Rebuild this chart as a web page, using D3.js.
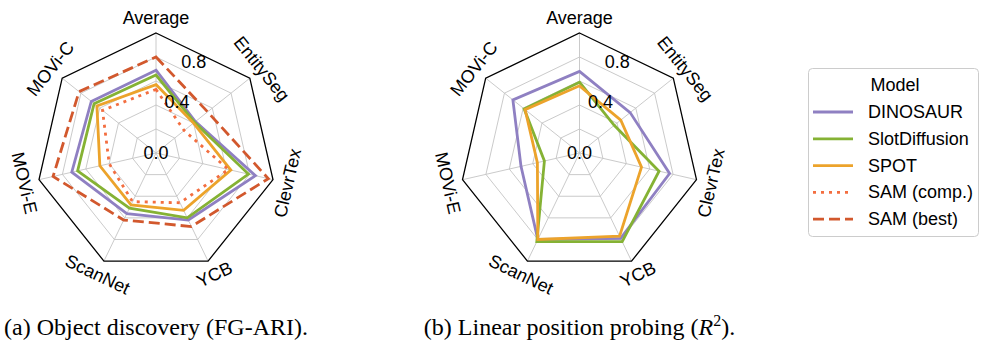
<!DOCTYPE html>
<html>
<head>
<meta charset="utf-8">
<script src="https://cdn.jsdelivr.net/npm/d3@7"></script>
<style>
  body { margin: 0; background: #fff; }
  text { font-family: "Liberation Sans", Arial, sans-serif; fill: #000; }
  .caption { font-family: "Liberation Serif", "Times New Roman", serif; }
</style>
</head>
<body>
<svg id="chart" width="981" height="341"></svg>
<script>
// axes go clockwise from the top
const axesNames = ["Average", "EntitySeg", "ClevrTex", "YCB", "ScanNet", "MOVi-E", "MOVi-C"];
const modelNames = ["DINOSAUR", "SlotDiffusion", "SPOT", "SAM (comp.)", "SAM (best)"];
const modelColors = ["#8f80c2", "#85b234", "#eca32b", "#f36e40", "#d2582d"];
const modelDash = [null, null, null, "3,5", "11,5"];
const rTicks = [0.0, 0.4, 0.8];
const rGrid = [0.2, 0.4, 0.6, 0.8];

// (a) object discovery, FG-ARI
const ariDinosaur = [0.69, 0.42, 0.85, 0.62, 0.56, 0.72, 0.69];
const ariSlotDiff = [0.65, 0.41, 0.79, 0.60, 0.51, 0.67, 0.66];
const ariSpot     = [0.57, 0.40, 0.64, 0.53, 0.48, 0.48, 0.63];
const ariSamComp  = [0.53, 0.30, 0.62, 0.46, 0.45, 0.40, 0.57];
const ariSamBest  = [0.80, 0.55, 0.96, 0.68, 0.62, 0.88, 0.82];

// (b) linear position probing, R^2
const r2Dinosaur = [0.68, 0.54, 0.77, 0.79, 0.80, 0.50, 0.71];
const r2SlotDiff = [0.59, 0.37, 0.68, 0.82, 0.82, 0.30, 0.59];
const r2Spot     = [0.56, 0.44, 0.53, 0.77, 0.80, 0.36, 0.58];

const svg = d3.select("#chart");
const R = 120;
const rScale = d3.scaleLinear().domain([0, 1]).range([0, R]);
const nAx = axesNames.length;
const angle = i => i * 2 * Math.PI / nAx;

function drawRadar(cx, cy, series, caption) {
   const g = svg.append("g").attr("transform", "translate(" + cx + "," + cy + ")");
   const ring = d3.lineRadial()
      .angle((d, i) => angle(i))
      .radius(d => rScale(d))
      .curve(d3.curveLinearClosed);

   // grid rings + spokes
   rGrid.forEach(v => {
      g.append("path")
         .attr("d", ring(axesNames.map(() => v)))
         .attr("fill", "none")
         .attr("stroke", "#c4c4c4")
         .attr("stroke-width", 0.9);
   });
   axesNames.forEach((a, i) => {
      g.append("line")
         .attr("x1", 0).attr("y1", 0)
         .attr("x2", rScale(1) * Math.sin(angle(i)))
         .attr("y2", -rScale(1) * Math.cos(angle(i)))
         .attr("stroke", "#c4c4c4")
         .attr("stroke-width", 0.9);
   });
   g.append("path")
      .attr("d", ring(axesNames.map(() => 1)))
      .attr("fill", "none")
      .attr("stroke", "#000")
      .attr("stroke-width", 1.3);

   // data
   series.forEach(s => {
      g.append("path")
         .attr("d", ring(s.values))
         .attr("fill", "none")
         .attr("stroke", modelColors[s.model])
         .attr("stroke-width", 2.8)
         .attr("stroke-linejoin", "miter")
         .attr("stroke-dasharray", modelDash[s.model]);
   });

   // radial tick labels
   const tickAng = 22.5 * Math.PI / 180;
   rTicks.forEach(v => {
      let rr = v > 0 ? rScale(v) + 11 - 10 * v : 0;
      g.append("text")
         .attr("x", rr * Math.sin(tickAng))
         .attr("y", -rr * Math.cos(tickAng))
         .attr("text-anchor", "middle")
         .attr("dominant-baseline", "central")
         .style("font-size", "18px")
         .text(v.toFixed(1));
   });

   // axis labels, rotated along the rim
   axesNames.forEach((a, i) => {
      let rl = 135;
      let x = rl * Math.sin(angle(i));
      let y = -rl * Math.cos(angle(i));
      let deg = angle(i) * 180 / Math.PI;
      if (deg > 90 && deg < 270) deg -= 180;
      if (deg >= 270) deg -= 360;
      g.append("text")
         .attr("transform", "translate(" + x + "," + y + ") rotate(" + deg + ")")
         .attr("text-anchor", "middle")
         .attr("dominant-baseline", "central")
         .style("font-size", "18px")
         .text(a);
   });

   // caption under the chart
   const cap = svg.append("text")
      .attr("class", "caption")
      .attr("x", cx)
      .attr("y", 335)
      .attr("text-anchor", "middle")
      .style("font-size", "24px");
   caption(cap);
}

drawRadar(156, 153, [
   { model: 0, values: ariDinosaur },
   { model: 1, values: ariSlotDiff },
   { model: 2, values: ariSpot },
   { model: 3, values: ariSamComp },
   { model: 4, values: ariSamBest }
], t => t.text("(a) Object discovery (FG-ARI)."));

drawRadar(579.5, 153, [
   { model: 0, values: r2Dinosaur },
   { model: 1, values: r2SlotDiff },
   { model: 2, values: r2Spot }
], t => {
   t.append("tspan").text("(b) Linear position probing (");
   t.append("tspan").style("font-style", "italic").text("R");
   t.append("tspan").attr("dy", -9).style("font-size", "16px").text("2");
   t.append("tspan").attr("dy", 9).text(").");
});

// legend
const legend = svg.append("g").attr("transform", "translate(808,68)");
legend.append("rect")
   .attr("x", 0.5).attr("y", 0.5)
   .attr("width", 170).attr("height", 168)
   .attr("rx", 4)
   .attr("fill", "#fff")
   .attr("stroke", "#cccccc")
   .attr("stroke-width", 1);
legend.append("text")
   .attr("x", 87).attr("y", 17)
   .attr("text-anchor", "middle")
   .attr("dominant-baseline", "central")
   .style("font-size", "18px")
   .text("Model");
modelNames.forEach((m, i) => {
   let y = 44 + i * 26.8;
   legend.append("line")
      .attr("x1", 5).attr("x2", 45)
      .attr("y1", y).attr("y2", y)
      .attr("stroke", modelColors[i])
      .attr("stroke-width", 2.8)
      .attr("stroke-dasharray", modelDash[i]);
   legend.append("text")
      .attr("x", 60).attr("y", y)
      .attr("dominant-baseline", "central")
      .style("font-size", "18px")
      .text(m);
});
</script>
</body>
</html>
